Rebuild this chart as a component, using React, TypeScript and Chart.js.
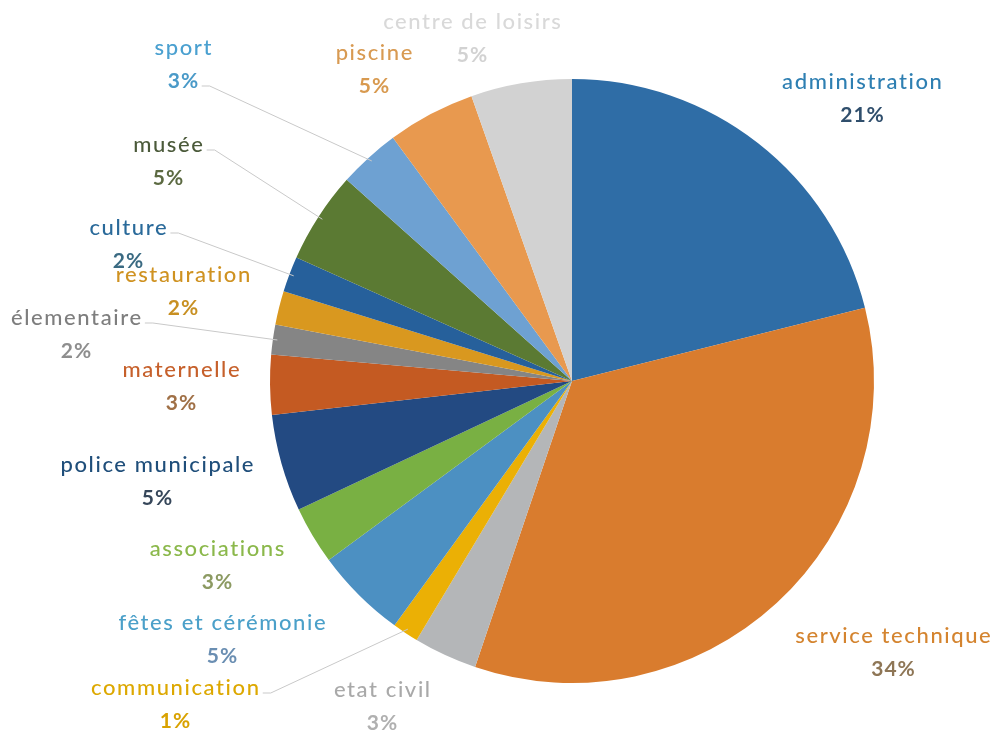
import React, { useEffect, useRef } from "react";
import { Chart, registerables } from "chart.js";

Chart.register(...registerables);

const CATEGORIES = [
  "administration",
  "service technique",
  "etat civil",
  "communication",
  "fêtes et cérémonie",
  "associations",
  "police municipale",
  "maternelle",
  "élementaire",
  "restauration",
  "culture",
  "musée",
  "sport",
  "piscine",
  "centre de loisirs",
];

const VALUES = [21.1, 34.1, 3.4, 1.4, 4.9, 3.1, 5.2, 3.2, 1.6, 1.8, 1.9, 4.9, 3.3, 4.7, 5.4];

const SLICE_COLORS = [
  "#2F6DA6",
  "#D97C2E",
  "#B4B6B8",
  "#EBB005",
  "#4C90C2",
  "#79B043",
  "#234A82",
  "#C45A22",
  "#858585",
  "#D9981F",
  "#26609B",
  "#5B7A33",
  "#6EA1D2",
  "#E8994F",
  "#D2D2D2",
];

const NAME_COLORS = [
  "#2E7FB2",
  "#D4842F",
  "#A9A9A9",
  "#DDA800",
  "#4BA0C9",
  "#8BB84B",
  "#1F4E7A",
  "#C6602B",
  "#7E7E7E",
  "#CF9221",
  "#2A6A9A",
  "#4B5A3A",
  "#4AA0D0",
  "#D89A52",
  "#D9D9D9",
];

const PCT_COLORS = [
  "#2F4E6C",
  "#8E7656",
  "#B0B0B0",
  "#D9A200",
  "#6A8EB2",
  "#8C9A62",
  "#36475A",
  "#A07046",
  "#8E8E8E",
  "#C89022",
  "#3A6A82",
  "#5C6A42",
  "#4A9AC8",
  "#D89A50",
  "#D2D2D2",
];

// label centres relative to pie centre, in pixels at the reference radius
const REF_RADIUS = 302;
const LABEL_OFFSETS: [number, number][] = [
  [290, -299],
  [321, 255],
  [-190, 309],
  [-397, 307],
  [-350, 242],
  [-355, 168],
  [-415, 84],
  [-391, -11],
  [-496, -63],
  [-389, -106],
  [-444, -153],
  [-404, -236],
  [-389, -333],
  [-198, -328],
  [-100, -359],
];
// which text row the leader line starts from (none for most)
const LEADER_ROWS: (string | null)[] = [
  null, null, null, "name", null, null, null, null, "name", null, "name", "name", "pct", null, null,
];
const ROW_GAP = 33;

const labelPlugin = {
  id: "outerLabels",
  afterDatasetsDraw(chart: any) {
    const ctx = chart.ctx as CanvasRenderingContext2D & { letterSpacing?: string };
    const meta = chart.getDatasetMeta(0);
    const data = chart.data.datasets[0].data as number[];
    const total = data.reduce((a, b) => a + b, 0);
    ctx.save();
    meta.data.forEach((arc: any, i: number) => {
      const p = arc.getProps(["x", "y", "outerRadius", "startAngle", "endAngle"], true);
      const k = p.outerRadius / REF_RADIUS;
      const lx = p.x + LABEL_OFFSETS[i][0] * k;
      const ly = p.y + LABEL_OFFSETS[i][1] * k;
      const pct = Math.round((data[i] / total) * 100) + "%";
      ctx.textAlign = "center";
      ctx.textBaseline = "middle";
      ctx.font = "500 22px Lato";
      ctx.letterSpacing = "1.6px";
      ctx.fillStyle = NAME_COLORS[i];
      const name = chart.data.labels[i];
      ctx.fillText(name, lx + 0.8, ly);
      const nameW = ctx.measureText(name).width;
      ctx.font = "bold 21px Lato";
      ctx.letterSpacing = "1px";
      ctx.fillStyle = PCT_COLORS[i];
      ctx.fillText(pct, lx + 0.5, ly + ROW_GAP);
      const pctW = ctx.measureText(pct).width;
      ctx.letterSpacing = "0px";
      const row = LEADER_ROWS[i];
      if (row) {
        const w = row === "name" ? nameW : pctW;
        const sy = (row === "name" ? ly : ly + ROW_GAP) + 5;
        const sx = lx + w / 2 + 3;
        const mid = (p.startAngle + p.endAngle) / 2;
        const ex = p.x + Math.cos(mid) * p.outerRadius * 0.985;
        const ey = p.y + Math.sin(mid) * p.outerRadius * 0.985;
        ctx.strokeStyle = "#C9C9C9";
        ctx.lineWidth = 1;
        ctx.beginPath();
        ctx.moveTo(sx, sy);
        ctx.lineTo(sx + 8, sy);
        ctx.lineTo(ex, ey);
        ctx.stroke();
      }
    });
    ctx.restore();
  },
};

export default function App() {
  const ref = useRef<HTMLCanvasElement | null>(null);
  useEffect(() => {
    document.body.style.margin = "0";
    if (!ref.current) return;
    const chart = new Chart(ref.current, {
      type: "pie",
      data: {
        labels: CATEGORIES,
        datasets: [
          {
            data: VALUES,
            backgroundColor: SLICE_COLORS,
            borderWidth: 0,
          },
        ],
      },
      options: {
        animation: false,
        responsive: true,
        maintainAspectRatio: false,
        layout: { padding: { left: 270, right: 121, top: 79, bottom: 50 } },
        plugins: {
          legend: { display: false },
          tooltip: { enabled: false },
        },
      },
      plugins: [labelPlugin],
    });
    return () => chart.destroy();
  }, []);
  return (
    <div style={{ position: "absolute", left: 0, top: 0, width: 995, height: 733, background: "#fff" }}>
      <canvas ref={ref} />
    </div>
  );
}
